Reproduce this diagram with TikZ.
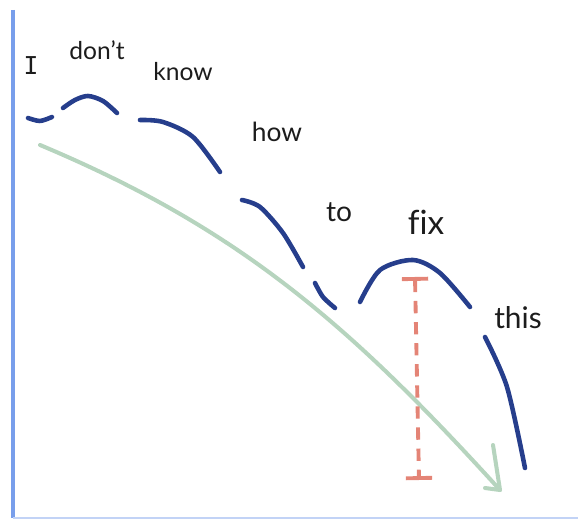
\documentclass[tikz,border=0pt]{standalone}
\usepackage{fontspec}
\setmainfont{Lato}[Ligatures=CommonOff]
\newfontfamily\barfont{DejaVu Sans Mono}
\usetikzlibrary{arrows.meta}
\usepackage{xcolor}
\definecolor{pitch}{RGB}{38,62,140}
\definecolor{trend}{RGB}{182,212,190}
\definecolor{gapred}{RGB}{228,132,118}
\definecolor{axisblue}{RGB}{120,158,235}
\definecolor{ink}{RGB}{28,28,28}

\begin{document}
\begin{tikzpicture}[
  x=0.02cm, y=-0.02cm,
  axisline/.style={draw=axisblue, line width=2.3pt},
  baseline/.style={draw=axisblue!45, line width=1.3pt},
  contour/.style={draw=pitch, line width=2.6pt, line cap=round, line join=round},
  fall/.style={draw=trend, line width=2.3pt, line cap=round, line join=round},
  gapbar/.style={draw=gapred, line width=2.2pt, dash pattern=on 7pt off 5pt,
                 arrows={Bar[width=15pt]-Bar[width=15pt]}},
  word/.style={font=\fontsize{#1}{#1}\selectfont, text=ink, inner sep=0pt},
  word/.default=15
]
\useasboundingbox (0,0) rectangle (578,519);

% ===== AXES =====
\coordinate (ytop) at (13,10);
\coordinate (origin) at (13,518);
\coordinate (xend) at (578,518);
\draw[axisline] (ytop) -- (origin);
\draw[baseline] (origin) -- (xend);

% ===== WORDS =====
\node[word, font=\barfont\fontsize{14}{14}\selectfont] (w-i) at (31,66) {I};
\node[word=14] (w-dont) at (97,50) {don't};
\node[word=14] (w-know) at (183,72) {know};
\node[word=15] (w-how) at (277,132) {how};
\node[word=16] (w-to) at (339,212) {to};
\node[word=19] (w-fix) at (426,222) {fix};
\node[word=17] (w-this) at (518,318) {this};

% ===== PITCH CONTOUR =====
\draw[contour] plot[smooth] coordinates {(28,118) (40,121) (52,117)};
\draw[contour] plot[smooth] coordinates {(63,108) (75,100) (88,96) (103,101) (117,113)};
\draw[contour] plot[smooth] coordinates {(140,120) (163,122) (193,137) (220,172)};
\draw[contour] plot[smooth] coordinates {(242,200) (260,207) (283,233) (303,267)};
\draw[contour] plot[smooth] coordinates {(315,283) (323,297) (335,308)};
\draw[contour] plot[smooth] coordinates {(360,302) (380,270) (413,260) (440,273) (470,307)};
\draw[contour] plot[smooth] coordinates {(485,337) (507,387) (525,468)};

% ===== FALLING TREND =====
\coordinate (fall-start) at (40,145);
\coordinate (fall-end) at (500,490);
\draw[fall] (fall-start) .. controls (240,229) and (350,325) .. (fall-end);
\draw[fall] (493,445) -- (fall-end) -- (485,488);

% ===== GAP =====
\coordinate (gap-top) at (415,277);
\coordinate (gap-bot) at (419,480);
\draw[gapbar] (gap-top) -- (gap-bot);

\end{tikzpicture}
\end{document}
